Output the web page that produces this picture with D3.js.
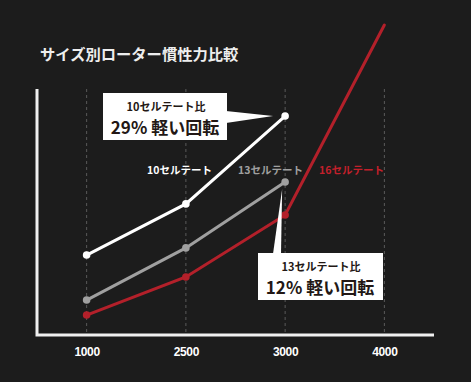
<!DOCTYPE html>
<html><head><meta charset="utf-8">
<script src="https://cdn.jsdelivr.net/npm/d3@7"></script>
<style>
html,body{margin:0;padding:0;background:#1c1c1c;}
svg{display:block;}
text{font-family:"Liberation Sans","Noto Sans CJK JP",sans-serif;font-weight:bold;}
</style></head>
<body>
<svg id="c" width="471" height="382"></svg>
<script>
const title = "サイズ別ローター慣性力比較";
const categories = ["1000", "2500", "3000", "4000"];
const seriesNames = ["10セルテート", "13セルテート", "16セルテート"];
const values10 = [32.5, 53.3, 89.0, null];
const values13 = [14.2, 35.4, 62.2, null];
const values16 = [8.1, 23.6, 48.8, 126];
const colors = ["#ffffff", "#a0a0a0", "#b3202a"];
const callout1 = ["10セルテート比", "29% 軽い回転"];
const callout2 = ["13セルテート比", "12% 軽い回転"];

(function () {
const svg = d3.select("#c");
const mLeft = 37, mRight = 434, mTop = 89, mBottom = 335;

const x = d3.scalePoint().domain(categories).range([mLeft, mRight]).padding(0.5);
const y = d3.scaleLinear().domain([0, 100]).range([mBottom, mTop]);

// title
svg.append("text").attr("x", 40).attr("y", 60).attr("fill", "#eeeeee")
  .attr("font-size", 15.3).style("font-family", "'Noto Sans CJK JP'").text(title);

// gridlines
svg.append("g").selectAll("line").data(categories).join("line")
  .attr("x1", d => x(d)).attr("x2", d => x(d))
  .attr("y1", mTop).attr("y2", mBottom)
  .attr("stroke", "#5a5a5a").attr("stroke-width", 1).attr("stroke-dasharray", "3,3");

// x axis labels
const xAxis = d3.axisBottom(x).tickSize(0).tickPadding(12);
const gx = svg.append("g").attr("transform", `translate(0,${mBottom})`).call(xAxis);
gx.select(".domain").remove();
gx.selectAll("text").attr("fill", "#ffffff").attr("font-size", 12)
  .style("font-family", "'Liberation Sans', sans-serif").style("font-weight", "bold")
  .style("letter-spacing", "-0.3px");

// axes lines
svg.append("path")
  .attr("d", d3.line()([[mLeft, mTop], [mLeft, mBottom], [mRight, mBottom]]))
  .attr("fill", "none").attr("stroke", "#f0f0f0").attr("stroke-width", 3);

// series
const allSeries = [values10, values13, values16];
const line = d3.line().defined(d => d[1] != null).x(d => x(d[0])).y(d => y(d[1]));
allSeries.forEach((vals, i) => {
  const pts = categories.map((c, j) => [c, vals[j]]);
  svg.append("path").datum(pts).attr("d", line)
    .attr("fill", "none").attr("stroke", colors[i]).attr("stroke-width", 3)
    .attr("stroke-linecap", "round");
  svg.append("g").selectAll("circle")
    .data(pts.filter((d, j) => d[1] != null && j < 3)).join("circle")
    .attr("cx", d => x(d[0])).attr("cy", d => y(d[1])).attr("r", 3.8)
    .attr("fill", colors[i]);
});

// series labels
const labelPos = [[147, 174], [238, 174], [319, 174]];
seriesNames.forEach((n, i) => {
  svg.append("text").attr("x", labelPos[i][0]).attr("y", labelPos[i][1])
    .attr("fill", i === 2 ? "#c3202b" : colors[i])
    .attr("font-size", 10.5).style("font-family", "'Noto Sans CJK JP'").text(n);
});

// callout 1
const p1 = [x(categories[2]), y(values10[2])];
svg.append("polygon")
  .attr("points", [[226, 111], [p1[0] - 12, p1[1]], [226, 123]].join(" "))
  .attr("fill", "#ffffff");
svg.append("rect").attr("x", 103).attr("y", 93).attr("width", 124).attr("height", 47).attr("fill", "#ffffff");
svg.append("text").attr("x", 166).attr("y", 110.5).attr("text-anchor", "middle")
  .attr("fill", "#231815").attr("font-size", 11).style("font-family", "'Noto Sans CJK JP'").text(callout1[0]);
svg.append("text").attr("x", 165).attr("y", 134).attr("text-anchor", "middle")
  .attr("fill", "#231815").attr("font-size", 17).style("font-family", "'Noto Sans CJK JP'").text(callout1[1]);

// callout 2
const p2 = [x(categories[2]), y(values13[2])];
svg.append("polygon")
  .attr("points", [[273, 254], [p2[0] - 3, p2[1] + 7], [281, 254]].join(" "))
  .attr("fill", "#ffffff");
svg.append("rect").attr("x", 258).attr("y", 253).attr("width", 125).attr("height", 47).attr("fill", "#ffffff");
svg.append("text").attr("x", 321).attr("y", 270.5).attr("text-anchor", "middle")
  .attr("fill", "#231815").attr("font-size", 11).style("font-family", "'Noto Sans CJK JP'").text(callout2[0]);
svg.append("text").attr("x", 320).attr("y", 294).attr("text-anchor", "middle")
  .attr("fill", "#231815").attr("font-size", 17).style("font-family", "'Noto Sans CJK JP'").text(callout2[1]);
})();
</script>
</body></html>
